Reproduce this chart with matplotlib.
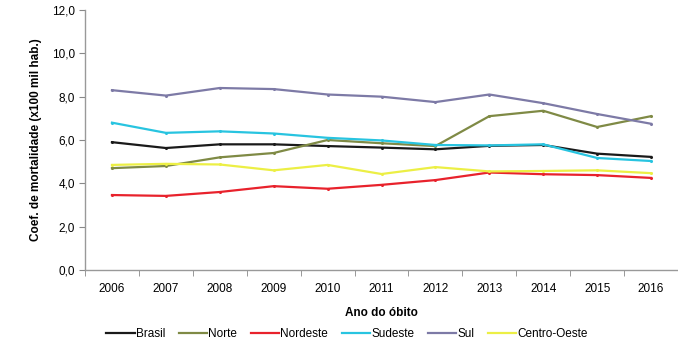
import matplotlib
matplotlib.use("Agg")
import matplotlib.pyplot as plt
import numpy as np

plt.rcParams['font.family'] = ['Liberation Sans', 'DejaVu Sans']

years = ["2006", "2007", "2008", "2009", "2010", "2011", "2012", "2013", "2014", "2015", "2016"]
brasil = [5.9, 5.63, 5.8, 5.8, 5.72, 5.65, 5.57, 5.73, 5.77, 5.37, 5.22]
norte = [4.7, 4.8, 5.2, 5.4, 6.0, 5.85, 5.72, 7.1, 7.35, 6.6, 7.1]
nordeste = [3.46, 3.42, 3.6, 3.87, 3.75, 3.93, 4.15, 4.5, 4.42, 4.38, 4.25]
sudeste = [6.8, 6.33, 6.4, 6.3, 6.1, 5.98, 5.77, 5.75, 5.8, 5.17, 5.03]
sul = [8.3, 8.05, 8.4, 8.35, 8.1, 8.0, 7.75, 8.1, 7.7, 7.2, 6.75]
centro_oeste = [4.85, 4.9, 4.87, 4.6, 4.85, 4.43, 4.75, 4.55, 4.57, 4.6, 4.47]

series = [
    ("Brasil", brasil, "#1a1a1a"),
    ("Norte", norte, "#7f8a45"),
    ("Nordeste", nordeste, "#e8222c"),
    ("Sudeste", sudeste, "#28c4e0"),
    ("Sul", sul, "#7d7aa6"),
    ("Centro-Oeste", centro_oeste, "#ecef45"),
]

fig = plt.figure(figsize=(6.78, 3.52), dpi=100)
ax = fig.add_axes([85/678, 1-270/352, 1-85/678, 260/352])

x = np.arange(len(years))
for name, vals, col in series:
    ax.plot(x, vals, color=col, lw=1.6, label=name, marker='o', markersize=1.2)

ax.set_xlim(-0.5, len(years) - 0.5)
ax.set_ylim(0, 12)
ax.set_yticks(np.arange(0, 12.1, 2))
ax.set_yticklabels([f"{v:.1f}".replace(".", ",") for v in np.arange(0, 12.1, 2)])
ax.set_xticks(x)
ax.set_xticklabels(years)
ax.set_xticks(np.arange(-0.5, len(years) - 0.4, 1), minor=True)
ax.tick_params(axis='x', which='major', length=0, pad=9, labelsize=8.5)
ax.tick_params(axis='x', which='minor', length=4, color='#888888', direction='out')
ax.tick_params(axis='y', length=4, color='#888888', labelsize=8.5, pad=3)

for s in ['top', 'right']:
    ax.spines[s].set_visible(False)
for s in ['left', 'bottom']:
    ax.spines[s].set_color('#999999')
    ax.spines[s].set_linewidth(1.0)

ax.set_ylabel("Coef. de mortalidade (x100 mil hab.)", fontsize=8.5, fontweight='bold', labelpad=7)
ax.set_xlabel("Ano do óbito", fontsize=8.5, fontweight='bold', labelpad=9)

handles, labels = ax.get_legend_handles_labels()
leg = fig.legend(handles, labels, loc='center', bbox_to_anchor=(347/678, 1-334/352), ncol=6,
                 frameon=False, fontsize=8.5, handlelength=2.4, handletextpad=0.1,
                 columnspacing=1.15)
for h in leg.get_lines():
    h.set_marker('')
    h.set_linewidth(1.6)

fig.savefig("out.png", dpi=100)
